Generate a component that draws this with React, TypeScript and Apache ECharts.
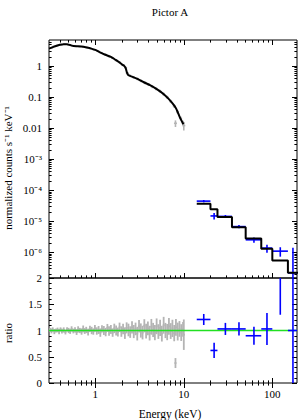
import { useEffect, useRef } from 'react';
import * as echarts from 'echarts';

// ---------- axis ranges ----------
const X_MIN = 0.3;
const X_MAX = 190;
const Y_MIN = 1.5e-7;
const Y_MAX = 7;
const R_MIN = 0;
const R_MAX = 2;

// ---------- soft X-ray model (black curve, top panel) ----------
const softModelE = [0.3, 0.33, 0.36, 0.4, 0.44, 0.48, 0.52, 0.57, 0.63, 0.7, 0.8, 0.9, 1.0, 1.15, 1.3, 1.5, 1.7, 1.85, 2.0, 2.1, 2.2, 2.28, 2.35, 2.6, 3.0, 3.5, 4.15, 5.0, 5.85, 6.7, 7.5, 8.2, 9.0, 9.9];
const softModelV = [3.7, 4.1, 4.5, 4.9, 5.1, 5.1, 4.8, 4.45, 4.4, 4.3, 4.0, 3.7, 3.35, 2.75, 2.35, 2.0, 1.6, 1.37, 1.15, 1.05, 0.88, 0.62, 0.52, 0.46, 0.39, 0.31, 0.245, 0.18, 0.13, 0.09, 0.062, 0.043, 0.023, 0.0135];

// ---------- soft X-ray data (grey, top panel) ----------
const softDataE = [0.31, 0.34, 0.37, 0.41, 0.45, 0.5, 0.55, 0.6, 0.66, 0.73, 0.8, 0.88, 0.97, 1.07, 1.18, 1.3, 1.43, 1.57, 1.72, 1.88, 2.06, 2.2, 2.3, 2.45, 2.7, 3.0, 3.3, 3.65, 4.0, 4.4, 4.85, 5.35, 5.9, 6.5, 7.1, 7.8, 8.05, 8.5, 9.2, 9.8, 10.0];
const softDataV = [3.8, 4.35, 4.65, 5.0, 5.15, 4.95, 4.6, 4.4, 4.45, 4.2, 4.05, 3.75, 3.4, 3.05, 2.7, 2.38, 2.1, 1.82, 1.55, 1.34, 1.1, 0.9, 0.6, 0.5, 0.44, 0.39, 0.34, 0.295, 0.26, 0.22, 0.19, 0.158, 0.127, 0.1, 0.074, 0.052, 0.0145, 0.034, 0.021, 0.015, 0.0122];
const softDataErr = [0.2, 0.22, 0.23, 0.25, 0.25, 0.25, 0.23, 0.22, 0.23, 0.22, 0.21, 0.2, 0.19, 0.17, 0.16, 0.15, 0.14, 0.12, 0.11, 0.1, 0.09, 0.075, 0.05, 0.045, 0.04, 0.037, 0.033, 0.03, 0.027, 0.024, 0.021, 0.018, 0.015, 0.012, 0.009, 0.007, 0.0035, 0.0045, 0.003, 0.0025, 0.0037];

// ---------- soft X-ray ratio (grey, bottom panel) ----------
const ratioE = [0.31, 0.32, 0.33, 0.345, 0.36, 0.375, 0.39, 0.405, 0.42, 0.44, 0.46, 0.48, 0.5, 0.52, 0.54, 0.565, 0.59, 0.615, 0.64, 0.67, 0.7, 0.73, 0.76, 0.79, 0.83, 0.87, 0.91, 0.95, 0.99, 1.04, 1.09, 1.14, 1.19, 1.25, 1.31, 1.37, 1.43, 1.5, 1.57, 1.64, 1.72, 1.8, 1.88, 1.97, 2.06, 2.16, 2.26, 2.37, 2.48, 2.6, 2.72, 2.85, 2.98, 3.12, 3.27, 3.42, 3.58, 3.75, 3.93, 4.11, 4.3, 4.5, 4.71, 4.93, 5.16, 5.4, 5.65, 5.92, 6.2, 6.49, 6.79, 7.11, 7.44, 7.79, 8.15, 8.53, 8.93, 9.35, 9.8, 8.05, 10.0];
const ratioV = [1.01, 0.99, 1.02, 0.98, 1.0, 1.01, 0.98, 1.02, 0.99, 1.01, 0.97, 1.02, 1.0, 0.98, 1.03, 0.99, 1.01, 0.97, 1.02, 1.0, 0.98, 1.03, 0.99, 1.01, 0.97, 1.03, 1.0, 0.98, 1.04, 0.99, 1.01, 0.96, 1.03, 1.0, 0.97, 1.05, 0.99, 1.02, 0.96, 1.04, 1.0, 0.97, 1.06, 0.98, 1.03, 0.95, 1.05, 1.01, 0.97, 1.06, 0.98, 1.03, 0.94, 1.08, 1.0, 0.96, 1.09, 0.99, 1.04, 0.95, 1.07, 1.01, 0.96, 1.08, 0.98, 1.05, 0.94, 1.1, 1.0, 0.97, 1.08, 0.99, 1.04, 0.95, 1.06, 0.98, 1.03, 0.96, 1.02, 0.38, 0.92];
const ratioErr = [0.04, 0.045, 0.04, 0.05, 0.04, 0.045, 0.05, 0.04, 0.045, 0.05, 0.045, 0.04, 0.05, 0.045, 0.05, 0.045, 0.05, 0.055, 0.06, 0.05, 0.06, 0.065, 0.055, 0.06, 0.065, 0.06, 0.07, 0.06, 0.065, 0.07, 0.075, 0.08, 0.07, 0.085, 0.08, 0.075, 0.09, 0.085, 0.08, 0.09, 0.095, 0.085, 0.09, 0.1, 0.1, 0.11, 0.105, 0.12, 0.11, 0.115, 0.125, 0.12, 0.13, 0.12, 0.135, 0.13, 0.125, 0.14, 0.13, 0.14, 0.15, 0.135, 0.145, 0.15, 0.14, 0.155, 0.15, 0.16, 0.145, 0.155, 0.16, 0.15, 0.165, 0.155, 0.16, 0.17, 0.15, 0.16, 0.14, 0.095, 0.29];

// ---------- hard X-ray (blue) ----------
const batLo = [14, 20, 24, 35, 50, 75, 100, 150];
const batHi = [20, 24, 35, 50, 75, 100, 150, 195];
const batCenter = [16.8, 22, 29.5, 42, 62, 87, 123, 171];
const batModel = [3.7e-5, 2.45e-5, 1.38e-5, 6.5e-6, 2.8e-6, 1.32e-6, 5.5e-7, 2.2e-7];
const batFlux = [4.5e-5, 1.5e-5, 1.45e-5, 6.8e-6, 2.55e-6, 1.38e-6, 1.1e-6, 2.2e-7];
const batFluxErr = [3.9e-6, 3.5e-6, 1.6e-6, 8e-7, 4.8e-7, 4e-7, 3.7e-7, 1.2e-6];
const batRatio = [1.21, 0.62, 1.03, 1.03, 0.9, 1.03, 2.05, 1.0];
const batRatioErr = [0.105, 0.145, 0.115, 0.125, 0.17, 0.305, 0.75, 5];

// ---------- ticks ----------
const xMajorTicks = [1, 10, 100];
const xMinorTicks = [0.4, 0.5, 0.6, 0.7, 0.8, 0.9, 2, 3, 4, 5, 6, 7, 8, 9, 20, 30, 40, 50, 60, 70, 80, 90];
const yMajorTicks = [1e-6, 1e-5, 1e-4, 1e-3, 0.01, 0.1, 1];
const yDecades = [-7, -6, -5, -4, -3, -2, -1, 0];
const logMantissas = [2, 3, 4, 5, 6, 7, 8, 9];
const ratioMajorTicks = [0, 0.5, 1, 1.5, 2];
const ratioMinorTicks = [0.1, 0.2, 0.3, 0.4, 0.6, 0.7, 0.8, 0.9, 1.1, 1.2, 1.3, 1.4, 1.6, 1.7, 1.8, 1.9];

const FONT = 'Liberation Serif, serif';
const SUP: Record<string, string> = { '0': '⁰', '1': '¹', '2': '²', '3': '³', '4': '⁴', '5': '⁵', '6': '⁶', '7': '⁷', '8': '⁸', '9': '⁹', '-': '⁻' };

function logLabel(v: number): string {
  const p = Math.log10(v);
  const r = Math.round(p);
  if (Math.abs(p - r) > 1e-6) return '';
  if (r === 0) return '1';
  if (r === -1) return '0.1';
  if (r === -2) return '0.01';
  if (r === 1) return '10';
  if (r === 2) return '100';
  return '10' + String(r).split('').map((c) => SUP[c]).join('');
}

const MAJOR = 5;
const MINOR = 2.6;

function crossSeries(gridIndex: number, data: number[][], color: string, width: number, yMin: number, yMax: number, isLog: boolean, hPx: number, z: number) {
  return {
    type: 'custom',
    xAxisIndex: gridIndex,
    yAxisIndex: gridIndex,
    silent: true,
    clip: true,
    z,
    data,
    renderItem: (params: any, api: any) => {
      const c = api.value(0);
      const v = api.value(1);
      const lo = api.value(2);
      const hi = api.value(3);
      const e = api.value(4);
      const children: any[] = [];
      let vLo = v - e;
      let vHi = v + e;
      if (isLog && vLo <= 0) vLo = yMin;
      vLo = Math.max(vLo, yMin);
      vHi = Math.min(vHi, yMax);
      if (vHi > vLo) {
        const a = api.coord([c, vLo]);
        const b = api.coord([c, vHi]);
        children.push({ type: 'line', shape: { x1: a[0], y1: a[1], x2: b[0], y2: b[1] }, style: { stroke: color, lineWidth: width } });
      }
      if (v >= yMin && v <= yMax) {
        if (hPx > 0) {
          const m = api.coord([c, v]);
          children.push({ type: 'line', shape: { x1: m[0] - hPx, y1: m[1], x2: m[0] + hPx, y2: m[1] }, style: { stroke: color, lineWidth: width } });
        } else {
          const l = api.coord([Math.max(lo, X_MIN), v]);
          const r = api.coord([Math.min(hi, X_MAX), v]);
          children.push({ type: 'line', shape: { x1: l[0], y1: l[1], x2: r[0], y2: r[1] }, style: { stroke: color, lineWidth: width } });
        }
      }
      return { type: 'group', children };
    },
  };
}

// an axis used only to draw inside tick marks (no labels)
function tickAxis(type: string, gridIndex: number, min: number, max: number, position: string, values: number[], len: number) {
  return {
    type,
    gridIndex,
    min,
    max,
    position,
    ...(type === 'log' ? { logBase: 10 } : { interval: 0.5 }),
    axisLine: { show: false },
    splitLine: { show: false },
    axisLabel: { show: false },
    axisTick: { show: true, inside: true, length: len, customValues: values, lineStyle: { color: '#000', width: 1 } },
  };
}

export default function App() {
  const ref = useRef<HTMLDivElement>(null);

  useEffect(() => {
    if (!ref.current) return;
    const chart = echarts.init(ref.current, undefined, { renderer: 'svg' });

    const yMinorTicks: number[] = [];
    yDecades.forEach((d) => {
      logMantissas.forEach((m) => {
        const v = m * Math.pow(10, d);
        if (v > Y_MIN && v < Y_MAX) yMinorTicks.push(v);
      });
    });

    const softDataItems = softDataE.map((e, i) => [e, softDataV[i], e, e, softDataErr[i]]);
    const ratioItems = ratioE.map((e, i) => [e, ratioV[i], e, e, ratioErr[i]]);
    const batTopItems = batCenter.map((c, i) => [c, batFlux[i], batLo[i], batHi[i], batFluxErr[i]]);
    const batRatioItems = batCenter.map((c, i) => [c, batRatio[i], batLo[i], batHi[i], batRatioErr[i]]);
    const batStep = batLo.map((lo, i) => [lo, batModel[i]]).concat([[batHi[batHi.length - 1], batModel[batModel.length - 1]]]);

    const labelStyle = { fontFamily: FONT, fontSize: 11, color: '#000' };
    const majorTick = (values: number[]) => ({ show: true, inside: true, length: MAJOR, customValues: values, lineStyle: { color: '#000', width: 1 } });

    chart.setOption({
      animation: false,
      grid: [
        { left: 49, top: 40, width: 248, height: 238, show: true, borderColor: '#000', borderWidth: 1 },
        { left: 49, top: 278, width: 248, height: 105, show: true, borderColor: '#000', borderWidth: 1 },
      ],
      xAxis: [
        {
          type: 'log', logBase: 10, gridIndex: 0, min: X_MIN, max: X_MAX, position: 'bottom',
          axisLine: { show: false }, splitLine: { show: false },
          axisTick: majorTick(xMajorTicks),
          axisLabel: { show: false },
        },
        {
          type: 'log', logBase: 10, gridIndex: 1, min: X_MIN, max: X_MAX, position: 'bottom',
          axisLine: { show: false }, splitLine: { show: false },
          axisTick: majorTick(xMajorTicks),
          axisLabel: { ...labelStyle, margin: 5, formatter: (v: number) => logLabel(v) },
        },
        tickAxis('log', 0, X_MIN, X_MAX, 'bottom', xMinorTicks, MINOR),
        tickAxis('log', 0, X_MIN, X_MAX, 'top', xMajorTicks, MAJOR),
        tickAxis('log', 0, X_MIN, X_MAX, 'top', xMinorTicks, MINOR),
        tickAxis('log', 1, X_MIN, X_MAX, 'bottom', xMinorTicks, MINOR),
        tickAxis('log', 1, X_MIN, X_MAX, 'top', xMajorTicks, MAJOR),
        tickAxis('log', 1, X_MIN, X_MAX, 'top', xMinorTicks, MINOR),
      ],
      yAxis: [
        {
          type: 'log', logBase: 10, gridIndex: 0, min: Y_MIN, max: Y_MAX, position: 'left',
          axisLine: { show: false }, splitLine: { show: false },
          axisTick: majorTick(yMajorTicks),
          axisLabel: { ...labelStyle, margin: 7, formatter: (v: number) => logLabel(v) },
        },
        {
          type: 'value', gridIndex: 1, min: R_MIN, max: R_MAX, interval: 0.5, position: 'left',
          axisLine: { show: false }, splitLine: { show: false },
          axisTick: majorTick(ratioMajorTicks),
          axisLabel: { ...labelStyle, margin: 7 },
        },
        tickAxis('log', 0, Y_MIN, Y_MAX, 'left', yMinorTicks, MINOR),
        tickAxis('log', 0, Y_MIN, Y_MAX, 'right', yMajorTicks, MAJOR),
        tickAxis('log', 0, Y_MIN, Y_MAX, 'right', yMinorTicks, MINOR),
        tickAxis('value', 1, R_MIN, R_MAX, 'left', ratioMinorTicks, MINOR),
        tickAxis('value', 1, R_MIN, R_MAX, 'right', ratioMajorTicks, MAJOR),
        tickAxis('value', 1, R_MIN, R_MAX, 'right', ratioMinorTicks, MINOR),
      ],
      series: [
        crossSeries(0, softDataItems, '#b4b4b4', 1.6, Y_MIN, Y_MAX, true, 1.5, 2),
        crossSeries(1, ratioItems, '#b4b4b4', 1.8, R_MIN, R_MAX, false, 1, 2),
        {
          type: 'line', xAxisIndex: 1, yAxisIndex: 1, silent: true, z: 3,
          data: [[X_MIN, 1], [X_MAX, 1]], symbol: 'none',
          lineStyle: { color: '#22e022', width: 1.5 },
        },
        crossSeries(0, batTopItems, '#0000ff', 1.6, Y_MIN, Y_MAX, true, 0, 4),
        crossSeries(1, batRatioItems, '#0000ff', 1.6, R_MIN, R_MAX, false, 0, 4),
        {
          type: 'line', xAxisIndex: 0, yAxisIndex: 0, silent: true, z: 5,
          data: softModelE.map((e, i) => [e, softModelV[i]]), symbol: 'none', smooth: 0.2,
          lineStyle: { color: '#000', width: 2 },
        },
        {
          type: 'line', xAxisIndex: 0, yAxisIndex: 0, silent: true, z: 5, step: 'end',
          data: batStep, symbol: 'none',
          lineStyle: { color: '#000', width: 2 },
        },
      ],
      graphic: [
        { type: 'text', z: 50, x: 170, y: 12, style: { text: 'Pictor A', fontFamily: FONT, fontSize: 11, fill: '#000', align: 'center', verticalAlign: 'middle' } },
        { type: 'text', z: 50, x: 170, y: 414, style: { text: 'Energy (keV)', fontFamily: FONT, fontSize: 11.5, fill: '#000', align: 'center', verticalAlign: 'middle' } },
        { type: 'text', z: 50, x: 8, y: 168, rotation: Math.PI / 2, style: { text: 'normalized counts s⁻¹ keV⁻¹', fontFamily: FONT, fontSize: 11, fill: '#000', align: 'center', verticalAlign: 'middle' } },
        { type: 'text', z: 50, x: 8, y: 333, rotation: Math.PI / 2, style: { text: 'ratio', fontFamily: FONT, fontSize: 11, fill: '#000', align: 'center', verticalAlign: 'middle' } },
      ],
    });

    return () => chart.dispose();
  }, []);

  return <div ref={ref} style={{ position: 'fixed', left: 0, top: 0, width: 300, height: 420, background: '#fff' }} />;
}
